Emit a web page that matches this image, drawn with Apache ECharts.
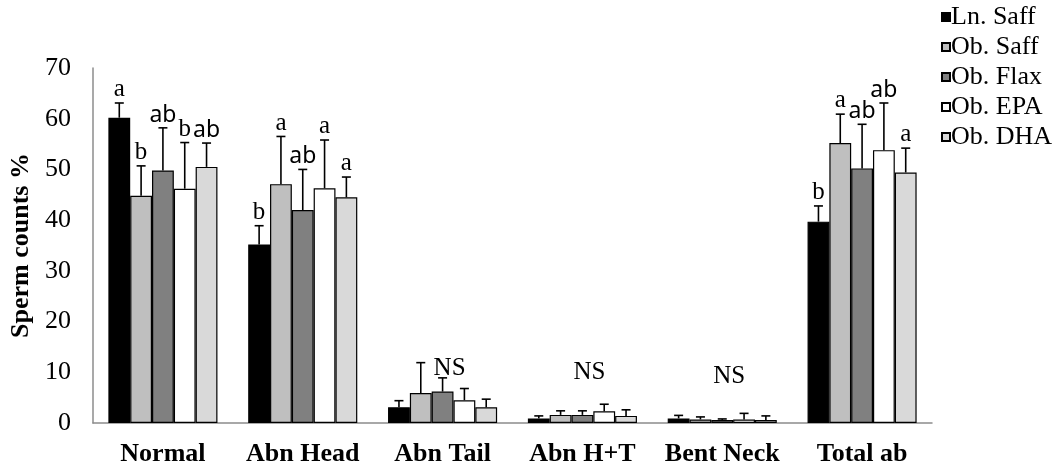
<!DOCTYPE html>
<html>
<head>
<meta charset="utf-8">
<script src="https://cdn.jsdelivr.net/npm/echarts@6/dist/echarts.min.js"></script>
<style>
  html, body { margin: 0; padding: 0; background: #fff; }
  #chart { width: 1061px; height: 471px; }
</style>
</head>
<body>
<div id="chart"></div>
<script>
// categories and treatments
var categories = ['Normal', 'Abn Head', 'Abn Tail', 'Abn H+T', 'Bent Neck', 'Total ab'];
var groups = ['Ln. Saff', 'Ob. Saff', 'Ob. Flax', 'Ob. EPA', 'Ob. DHA'];

// means per treatment
var lnSaff = [60.2, 35.2, 3.1, 0.9, 0.9, 39.7];
var obSaff = [44.8, 47.1, 5.9, 1.6, 0.7, 55.2];
var obFlax = [49.8, 42.0, 6.2, 1.6, 0.6, 50.2];
var obEpa  = [46.2, 46.3, 4.5, 2.3, 0.7, 53.8];
var obDha  = [50.5, 44.5, 3.1, 1.4, 0.6, 49.4];

// error (upper bar length)
var lnSaffErr = [2.9, 3.7, 1.3, 0.5, 0.6, 3.1];
var obSaffErr = [5.9, 9.4, 6.0, 0.8, 0.5, 5.7];
var obFlaxErr = [8.4, 8.0, 2.7, 0.8, 0.2, 8.7];
var obEpaErr  = [9.1, 9.5, 2.3, 1.4, 1.2, 9.3];
var obDhaErr  = [4.7, 4.0, 1.6, 1.2, 0.8, 4.8];

// significance letters
var lnSaffSig = ['a', 'b', '', '', '', 'b'];
var obSaffSig = ['b', 'a', '', '', '', 'a'];
var obFlaxSig = ['ab', 'ab', '', '', '', 'ab'];
var obEpaSig  = ['b', 'a', '', '', '', 'ab'];
var obDhaSig  = ['ab', 'a', '', '', '', 'a'];

// NS label height per category
var nsLevel = [null, null, 10.8, 9.9, 9.1, null];

var yTicks = [0, 10, 20, 30, 40, 50, 60, 70];

var means = [lnSaff, obSaff, obFlax, obEpa, obDha];
var errs = [lnSaffErr, obSaffErr, obFlaxErr, obEpaErr, obDhaErr];
var sigs = [lnSaffSig, obSaffSig, obFlaxSig, obEpaSig, obDhaSig];
var colors = ['#000000', '#BFBFBF', '#808080', '#FFFFFF', '#D9D9D9'];

var SERIF = '"Liberation Serif", "Times New Roman", serif';
var SANS = '"Noto Sans", "Open Sans", sans-serif';
var catGap = 0.22;

var chart = echarts.init(document.getElementById('chart'));

function errRender(k) {
  return function (params, api) {
    var idx = api.value(0);
    var mean = api.value(1);
    var top = mean + api.value(2);
    var band = api.size([1, 0])[0];
    var groupW = band * (1 - catGap);
    var barW = groupW / groups.length;
    var base = api.coord([idx, mean]);
    var x = base[0] - groupW / 2 + barW * (k + 0.5);
    var y0 = base[1];
    var y1 = api.coord([idx, top])[1];
    var cap = 4.5;
    var letter = sigs[k][idx];
    var children = [
      { type: 'line', shape: { x1: x, y1: y0, x2: x, y2: y1 }, style: { stroke: '#000', lineWidth: 1.6 } },
      { type: 'line', shape: { x1: x - cap, y1: y1, x2: x + cap, y2: y1 }, style: { stroke: '#000', lineWidth: 1.6 } }
    ];
    if (letter) {
      children.push({
        type: 'text',
        style: {
          text: letter, x: x, y: y1 - 1,
          align: 'center', verticalAlign: 'bottom',
          font: letter === 'ab' ? '23px ' + SANS : '25px ' + SERIF,
          fill: '#000'
        }
      });
    }
    return { type: 'group', children: children };
  };
}

// NS marker over non-significant groups
function nsRender(params, api) {
  var p = api.coord([api.value(0), api.value(1)]);
  return {
    type: 'text',
    style: {
      text: 'NS', x: p[0] + 7, y: p[1],
      align: 'center', verticalAlign: 'middle',
      font: '25px ' + SERIF, fill: '#000'
    }
  };
}

var series = [];
groups.forEach(function (name, k) {
  series.push({
    name: name,
    type: 'bar',
    barGap: '0%',
    barCategoryGap: (catGap * 100) + '%',
    itemStyle: { color: colors[k], borderColor: '#000', borderWidth: 1.2 },
    data: means[k]
  });
});
groups.forEach(function (name, k) {
  series.push({
    type: 'custom',
    renderItem: errRender(k),
    z: 5,
    silent: true,
    data: categories.map(function (c, i) { return [i, means[k][i], errs[k][i]]; })
  });
});
series.push({
  type: 'custom',
  renderItem: nsRender,
  z: 5,
  silent: true,
  data: nsLevel.map(function (v, i) { return v == null ? null : [i, v]; }).filter(function (d) { return d; })
});

chart.setOption({
  animation: false,
  backgroundColor: '#fff',
  grid: { left: 93, right: 129, top: 68, bottom: 48 },
  legend: {
    data: groups,
    orient: 'vertical',
    left: 936,
    top: -1,
    itemWidth: 8,
    itemHeight: 8,
    itemGap: 4,
    icon: 'rect',
    textStyle: { fontFamily: SERIF, fontSize: 26, color: '#000', padding: [0, 0, 0, -4] }
  },
  xAxis: {
    type: 'category',
    data: categories,
    axisLine: { lineStyle: { color: '#8c8c8c', width: 1.5 } },
    axisTick: { show: false },
    axisLabel: { interval: 0, hideOverlap: false, fontFamily: SERIF, fontWeight: 'bold', fontSize: 26, color: '#000', margin: 18 }
  },
  yAxis: {
    type: 'value',
    min: yTicks[0],
    max: yTicks[yTicks.length - 1],
    interval: 10,
    name: 'Sperm counts %',
    nameLocation: 'middle',
    nameGap: 57,
    nameTextStyle: { fontFamily: SERIF, fontWeight: 'bold', fontSize: 26, color: '#000' },
    axisLine: { show: true, lineStyle: { color: '#8c8c8c', width: 1.5 } },
    axisTick: { show: false },
    splitLine: { show: false },
    axisLabel: { fontFamily: SERIF, fontSize: 26, color: '#000', margin: 22 }
  },
  series: series
});
</script>
</body>
</html>
